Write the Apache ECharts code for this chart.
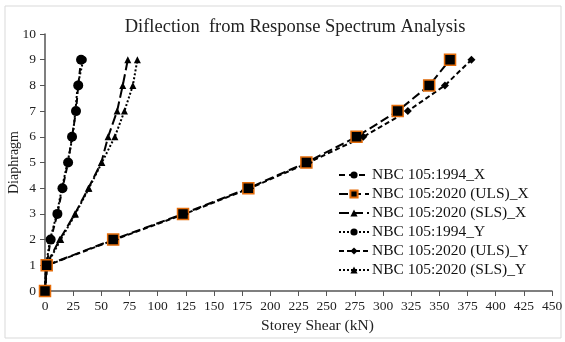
<!DOCTYPE html>
<html>
<head>
<meta charset="utf-8">
<script src="https://cdn.jsdelivr.net/npm/echarts@6/dist/echarts.min.js"></script>
<style>
  html, body {margin: 0; padding: 0; background: #fff;}
  #main {width: 565px; height: 342px;}
</style>
</head>
<body>
<div id="main"></div>
<script>
// storeys (diaphragm level)
const floors = [0, 1, 2, 3, 4, 5, 6, 7, 8, 9];
// storey shear (kN) per series
const nbc1994X = [0, 1.5, 5, 11, 15.5, 20.5, 24, 27.5, 29.5, 32];
const nbc2020UlsX = [0, 1.5, 60.5, 122.5, 180.5, 232, 276.5, 313, 341, 359.5];
const nbc2020SlsX = [0, 1, 13, 26.5, 38.5, 50, 56, 64, 69, 73.5];
const nbc1994Y = [0, 1, 4.5, 10.5, 15, 20, 24.5, 27, 29, 34];
const nbc2020UlsY = [0, 2, 62, 124, 182, 234, 282.5, 322, 355, 378.5];
const nbc2020SlsY = [0, 1.5, 14, 27, 39, 50.5, 62, 70.5, 78, 82];
const seriesNames = [
  'NBC 105:1994_X',
  'NBC 105:2020 (ULS)_X',
  'NBC 105:2020 (SLS)_X',
  'NBC 105:1994_Y',
  'NBC 105:2020 (ULS)_Y',
  'NBC 105:2020 (SLS)_Y'
];

const font = 'Liberation Serif, Times New Roman, serif';
const pair = (xs) => xs.map((v, i) => [v, floors[i]]);

function line(name, values, symbol, size, dash, extra) {
  return Object.assign({
    name: name,
    type: 'line',
    data: pair(values),
    symbol: symbol,
    symbolSize: size,
    itemStyle: {color: '#000'},
    lineStyle: {color: '#000', width: 2, type: dash},
    animation: false
  }, extra || {});
}

const chart = echarts.init(document.getElementById('main'));
chart.setOption({
  backgroundColor: '#fff',
  title: {
    text: 'Diflection  from Response Spectrum Analysis',
    left: 290, top: 13, textAlign: 'center',
    textStyle: {fontFamily: font, fontSize: 18.5, fontWeight: 'normal', color: '#222'}
  },
  graphic: [{
    type: 'rect', shape: {x: 5, y: 6, width: 556, height: 332},
    style: {fill: 'none', stroke: '#d9d9d9', lineWidth: 1}, silent: true
  }],
  grid: {left: 45, right: 13, top: 34, bottom: 51, outerBoundsMode: 'none', containLabel: false},
  legend: {
    orient: 'vertical', left: 333, top: 162,
    itemWidth: 30, itemHeight: 9, itemGap: 3,
    textStyle: {fontFamily: font, fontSize: 15.5, color: '#111', padding: [0, 0, 0, -2]},
    data: seriesNames
  },
  xAxis: {
    type: 'value', min: 0, max: 450, interval: 25,
    name: 'Storey Shear (kN)', nameLocation: 'middle', nameGap: 27, nameMoveOverlap: false,
    nameTextStyle: {fontFamily: font, fontSize: 15.5, color: '#222', padding: [0, 0, 0, 38]},
    axisLine: {lineStyle: {color: '#555', width: 1.5}},
    axisTick: {show: true, length: 5, lineStyle: {color: '#555'}},
    axisLabel: {fontFamily: font, fontSize: 13.5, color: '#222', margin: 8},
    splitLine: {show: false}
  },
  yAxis: {
    type: 'value', min: 0, max: 10, interval: 1,
    name: 'Diaphragm', nameLocation: 'middle', nameGap: 24, nameMoveOverlap: false,
    nameTextStyle: {fontFamily: font, fontSize: 14, color: '#222'},
    axisLine: {show: true, lineStyle: {color: '#555', width: 1.5}},
    axisTick: {show: true, length: 5, lineStyle: {color: '#555'}},
    axisLabel: {fontFamily: font, fontSize: 13.5, color: '#222', margin: 9},
    splitLine: {show: false}
  },
  series: [
    line(seriesNames[0], nbc1994X, 'circle', 10, [6, 4]),
    line(seriesNames[1], nbc2020UlsX, 'rect', 11, [9, 4], {
      itemStyle: {color: '#000', borderColor: '#e46c0a', borderWidth: 1.5}
    }),
    line(seriesNames[2], nbc2020SlsX, 'triangle', 7, [10, 4]),
    line(seriesNames[3], nbc1994Y, 'circle', 7, [2, 2]),
    line(seriesNames[4], nbc2020UlsY, 'diamond', 8, [5, 3]),
    line(seriesNames[5], nbc2020SlsY, 'triangle', 7, [2, 2])
  ]
});
</script>
</body>
</html>
